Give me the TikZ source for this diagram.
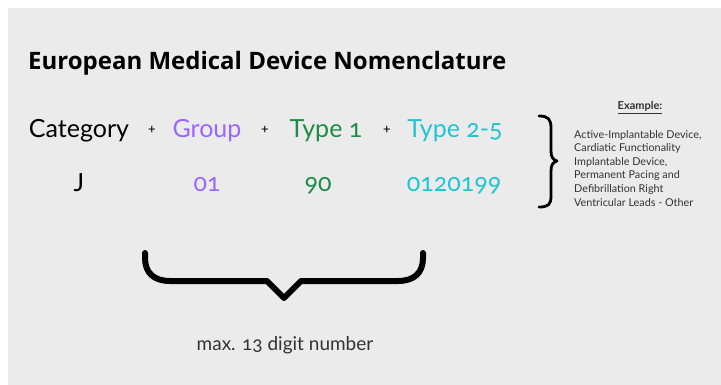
\documentclass[tikz,border=0pt]{standalone}
\usepackage{fontspec}
\setmainfont{Lato}[Numbers=OldStyle]
\newfontfamily\titlefont{Open Sans}[BoldFont={* Bold}]
\definecolor{bgc}{HTML}{EBEBEB}
\definecolor{cpurple}{HTML}{9A66FF}
\definecolor{cgreen}{HTML}{1E8C45}
\definecolor{ccyan}{HTML}{1FC6D2}
\definecolor{cgray}{HTML}{333333}
\tikzset{
  rowtxt/.style={anchor=base, inner sep=0pt, font=\fontsize{25}{29}\selectfont},
  plus/.style={anchor=center, inner sep=0pt, font=\fontsize{14}{16}\selectfont},
  bracestroke/.style={draw=black, line cap=round, line join=round}
}
\begin{document}
\begin{tikzpicture}[x=1pt,y=-1pt]
\useasboundingbox (0,0) rectangle (721,385);
\fill[bgc] (8,8) rectangle (721,385);
% title
\node[anchor=base west, inner sep=0pt, font=\titlefont\bfseries\fontsize{24}{28}\selectfont] (title) at (28,70) {European Medical Device Nomenclature};
% row 1
\node[rowtxt] (cat) at (79,138) {Category};
\node[plus] (p1) at (152,130) {+};
\node[rowtxt, text=cpurple] (grp) at (207,138) {Group};
\node[plus] (p2) at (265,130) {+};
\node[rowtxt, text=cgreen] (t1) at (326,138) {Type 1};
\node[plus] (p3) at (387,130) {+};
\node[rowtxt, text=ccyan] (t25) at (455,138) {Type 2-5};
% row 2
\node[rowtxt] (v1) at (79,192) {J};
\node[rowtxt, text=cpurple] (v2) at (207,192) {01};
\node[rowtxt, text=cgreen] (v3) at (318,192) {90};
\node[rowtxt, text=ccyan] (v4) at (454,192) {0120199};
% right brace
\draw[bracestroke, line width=2.8pt] (539,116) .. controls (548,116) and (551,119) .. (551,128)
  -- (551,151) .. controls (551,157) and (553,160) .. (557,161)
  .. controls (553,162) and (551,165) .. (551,171)
  -- (551,196) .. controls (551,205) and (548,207) .. (539,207);
% example
\node[anchor=base, inner sep=0pt, text=cgray, font=\bfseries\fontsize{11}{13}\selectfont] (ex) at (640,110) {\underline{Example:}};
\node[anchor=north west, inner sep=0pt, align=left, text=cgray, font=\fontsize{10.8}{13.6}\selectfont] (exbody) at (574,130)
  {Active-Implantable Device,\\Cardiatic Functionality\\Implantable Device,\\Permanent Pacing and\\Defibrillation Right\\Ventricular Leads - Other};
% bottom brace
\draw[bracestroke, line width=6pt] (145,253) -- (145,258) .. controls (145,273) and (154,281) .. (170,281)
  -- (267,281) -- (284,298) -- (301,281) -- (398,281)
  .. controls (414,281) and (423,273) .. (423,258) -- (423,253);
\node[anchor=base, inner sep=0pt, text=cgray, font=\fontsize{19}{22}\selectfont] (maxn) at (285,350) {max. 13 digit number};
\end{tikzpicture}
\end{document}
